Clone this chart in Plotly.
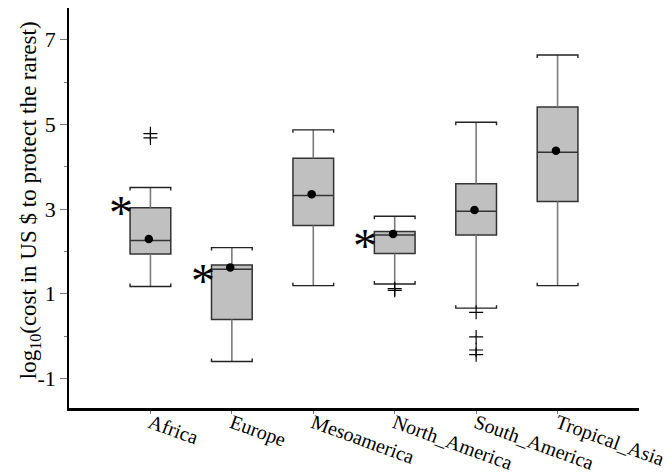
import plotly.graph_objects as go

# Summary statistics of log10 cost per region
categories = ["Africa", "Europe", "Mesoamerica", "North_America", "South_America", "Tropical_Asia"]
lower_whisker = [1.17, -0.60, 1.19, 1.23, 0.66, 1.19]
q1 = [1.94, 0.39, 2.61, 1.95, 2.39, 3.18]
median = [2.26, 1.58, 3.32, 2.39, 2.95, 4.34]
q3 = [3.03, 1.68, 4.20, 2.47, 3.60, 5.41]
upper_whisker = [3.51, 2.09, 4.87, 2.83, 5.05, 6.64]
mean = [2.29, 1.62, 3.35, 2.41, 2.98, 4.38]

# Outlying observations (region, value)
outlier_region = ["Africa", "Africa", "North_America", "North_America",
                  "South_America", "South_America", "South_America", "South_America"]
outlier_value = [4.78, 4.68, 1.12, 1.08, 0.56, -0.02, -0.33, -0.44]

# Regions marked with an asterisk and the level of the mark
starred_region = ["Africa", "Europe", "North_America"]
starred_level = [3.07, 1.45, 2.28]

# y tick labels
y_ticks = [-1, 1, 3, 5, 7]
y_ticklabels = ["-1", "1", "3", "5", "7"]

FONT = "Liberation Serif"
pos = {c: i for i, c in enumerate(categories)}
xs = list(range(len(categories)))
half = 0.25          # half box width in category units
cap_tick = 0.07      # little bracket ends on the whisker caps

fig = go.Figure()

fig.add_trace(go.Box(
    x=xs, q1=q1, median=median, q3=q3,
    lowerfence=q1, upperfence=q3,
    width=2 * half, whiskerwidth=0,
    fillcolor="#c0c0c0",
    line=dict(color="#333333", width=1.5),
    boxpoints=False, hoverinfo="skip", showlegend=False,
))

# whisker stems
wx, wy = [], []
for i in xs:
    wx += [i, i, None, i, i, None]
    wy += [q3[i], upper_whisker[i], None, q1[i], lower_whisker[i], None]
fig.add_trace(go.Scatter(x=wx, y=wy, mode="lines",
                         line=dict(color="#7a7a7a", width=1.6),
                         hoverinfo="skip", showlegend=False))

# whisker caps with small bracket ends
cx, cy = [], []
for i in xs:
    u, l = upper_whisker[i], lower_whisker[i]
    cx += [i - half, i - half, i + half, i + half, None]
    cy += [u - cap_tick, u, u, u - cap_tick, None]
    cx += [i - half, i - half, i + half, i + half, None]
    cy += [l + cap_tick, l, l, l + cap_tick, None]
fig.add_trace(go.Scatter(x=cx, y=cy, mode="lines",
                         line=dict(color="#222222", width=1.4),
                         hoverinfo="skip", showlegend=False))

# means
fig.add_trace(go.Scatter(x=[i - 0.02 for i in xs], y=mean, mode="markers",
                         marker=dict(color="black", size=8.5, symbol="circle"),
                         hoverinfo="skip", showlegend=False))

# outliers
fig.add_trace(go.Scatter(x=[pos[r] for r in outlier_region], y=outlier_value,
                         mode="markers",
                         marker=dict(symbol="cross-thin-open", size=10, color="black",
                                     line=dict(color="black", width=1.2)),
                         hoverinfo="skip", showlegend=False))

# asterisks
for r, lv in zip(starred_region, starred_level):
    fig.add_annotation(x=pos[r] - 0.36, y=lv, xref="x", yref="y",
                       text="*", showarrow=False, yshift=-6,
                       font=dict(family=FONT, size=48, color="black"))

# vertical axis title
fig.add_annotation(x=-0.068, y=0.52, xref="paper", yref="paper",
                   text="log<sub>10</sub>(cost in US $ to protect the rarest)",
                   textangle=-90, showarrow=False, xanchor="center", yanchor="middle",
                   font=dict(family=FONT, size=23, color="black"))

fig.update_xaxes(
    range=[-1, 6], tickvals=xs, ticktext=categories, tickangle=20,
    showline=True, linecolor="black", linewidth=2.5,
    ticks="outside", ticklen=3, tickcolor="#777777", tickwidth=1,
    ticklabelstandoff=-10,
    showgrid=False, zeroline=False, automargin=False,
    tickfont=dict(family=FONT, size=20, color="black"),
)
fig.update_yaxes(
    range=[-1.70, 7.75], tickvals=y_ticks, ticktext=y_ticklabels,
    showline=True, linecolor="black", linewidth=1.5,
    ticks="outside", ticklen=7, tickcolor="#777777", tickwidth=1,
    minor=dict(tickvals=[0, 2, 4, 6], ticks="outside", ticklen=3,
               tickcolor="#777777", tickwidth=1),
    showgrid=False, zeroline=False, automargin=False,
    tickfont=dict(family=FONT, size=22, color="black"),
)

fig.update_layout(
    width=670, height=476,
    margin=dict(l=69, r=31, t=8, b=68),
    paper_bgcolor="white", plot_bgcolor="white",
    font=dict(family=FONT),
)

fig.write_html("out.html")
